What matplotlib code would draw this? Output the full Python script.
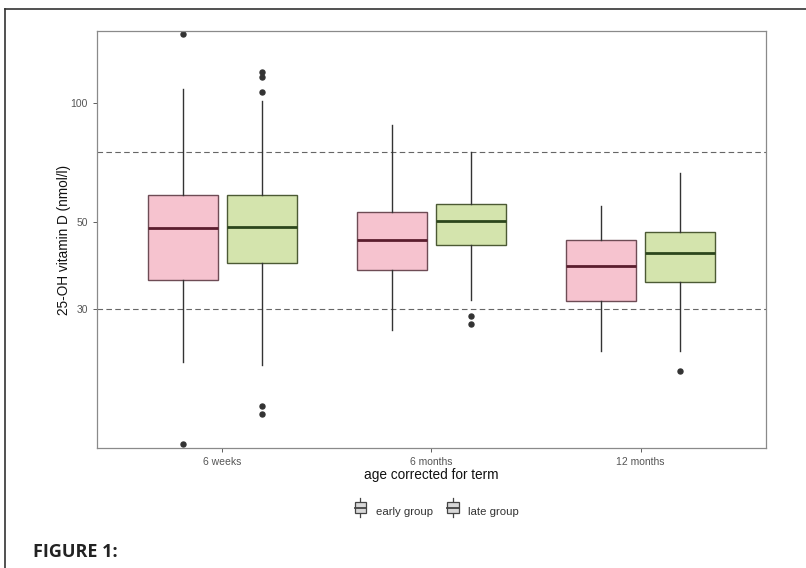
import numpy as np
import matplotlib.pyplot as plt
from matplotlib.legend_handler import HandlerBase
from matplotlib.patches import Rectangle
from matplotlib.lines import Line2D

plt.rcParams['font.family'] = ['Liberation Sans', 'DejaVu Sans']

ages = ['6 weeks', '6 months', '12 months']
groups = ['early group', 'late group']

# five-number summaries (nmol/l)
early_whislo = [22.0, 26.6, 23.4]
early_q1 = [35.6, 37.8, 31.4]
early_med = [48.2, 44.8, 38.5]
early_q3 = [58.3, 52.9, 45.0]
early_whishi = [108.7, 88.1, 54.7]
early_fliers = [[150.0, 13.6], [], []]

late_whislo = [21.6, 31.7, 23.4]
late_q1 = [39.3, 43.6, 35.2]
late_med = [48.6, 50.2, 41.6]
late_q3 = [58.5, 55.5, 47.0]
late_whishi = [101.3, 75.0, 66.5]
late_fliers = [[120.3, 116.8, 107.0, 17.0, 16.2], [28.8, 27.4], [20.9]]

thresholds = [30, 75]
yticks = [30, 50, 100]

fills = ['#f6c3cf', '#d4e4ad']
edges = ['#6e4c55', '#4c5a34']
medcols = ['#5a1e2e', '#2c461c']


def stats(lo, q1, med, q3, hi, fl):
    return [dict(whislo=lo[i], q1=q1[i], med=med[i], q3=q3[i], whishi=hi[i], fliers=fl[i])
            for i in range(len(lo))]


early = stats(early_whislo, early_q1, early_med, early_q3, early_whishi, early_fliers)
late = stats(late_whislo, late_q1, late_med, late_q3, late_whishi, late_fliers)

fig = plt.figure(figsize=(8.06, 5.68), dpi=100)
ax = fig.add_axes([0.1203, 0.2113, 0.830, 0.734])

x = np.arange(1, len(ages) + 1)
for k, (st, off) in enumerate([(early, -0.19), (late, 0.19)]):
    ax.bxp(st, positions=x + off, widths=0.335, patch_artist=True, showcaps=False,
           boxprops=dict(facecolor=fills[k], edgecolor=edges[k], linewidth=1.0),
           medianprops=dict(color=medcols[k], linewidth=2.0),
           whiskerprops=dict(color='#333333', linewidth=1.0),
           flierprops=dict(marker='o', markersize=3.6, markerfacecolor='#333333',
                           markeredgecolor='#333333'))

for t in thresholds:
    ax.axhline(t, color='#666666', linestyle=(0, (5, 3)), linewidth=0.8, zorder=0.5)

ax.set_yscale('log')
ax.set_ylim(13.3, 152.6)
ax.set_yticks(yticks)
ax.set_yticklabels([str(v) for v in yticks])
ax.minorticks_off()
ax.set_xlim(0.4, 3.6)
ax.set_xticks(x)
ax.set_xticklabels(ages)
ax.tick_params(labelsize=7.5, colors='#444444', length=3, width=0.6, labelcolor='#555555')
for s in ax.spines.values():
    s.set_color('#8a8a8a')
    s.set_linewidth(0.9)

ax.set_ylabel('25-OH vitamin D (nmol/l)', fontsize=9.8, color='#111111', labelpad=0)
ax.set_xlabel('age corrected for term', fontsize=9.8, color='#111111', labelpad=1)


class BoxKey(HandlerBase):
    def create_artists(self, legend, orig, xd, yd, w, h, fs, trans):
        cx = xd + w / 2
        bw = w * 0.8
        box = Rectangle((cx - bw / 2, yd), bw, h, facecolor='#d8d8d8',
                        edgecolor='#444444', linewidth=0.9, transform=trans)
        vl = Line2D([cx, cx], [yd - h * 0.35, yd + h * 1.35], color='#444444', lw=0.9, transform=trans)
        ml = Line2D([cx - bw / 2, cx + bw / 2], [yd + h / 2, yd + h / 2], color='#444444', lw=1.3,
                    transform=trans)
        return [vl, box, ml]


handles = [Rectangle((0, 0), 1, 1) for _ in groups]
fig.legend(handles, groups, handler_map={Rectangle: BoxKey()}, loc='center',
           bbox_to_anchor=(436 / 806, 1 - 511 / 568), ncol=2, frameon=False, fontsize=8.2,
           handlelength=1.3, handleheight=1.1, handletextpad=0.7, columnspacing=1.1,
           labelcolor='#333333')

# outer frame (top and left edges)
fig.add_artist(Line2D([5 / 806, 5 / 806], [0, 1 - 9 / 568], color='#333333', lw=1.2))
fig.add_artist(Line2D([5 / 806, 1], [1 - 9 / 568, 1 - 9 / 568], color='#333333', lw=1.2))

fig.text(33 / 806, 1 - 552 / 568, 'FIGURE 1:', fontsize=13, fontweight='bold',
         family=['Open Sans', 'DejaVu Sans'], color='#222222', va='center', ha='left')

fig.savefig('out.png', dpi=100)
